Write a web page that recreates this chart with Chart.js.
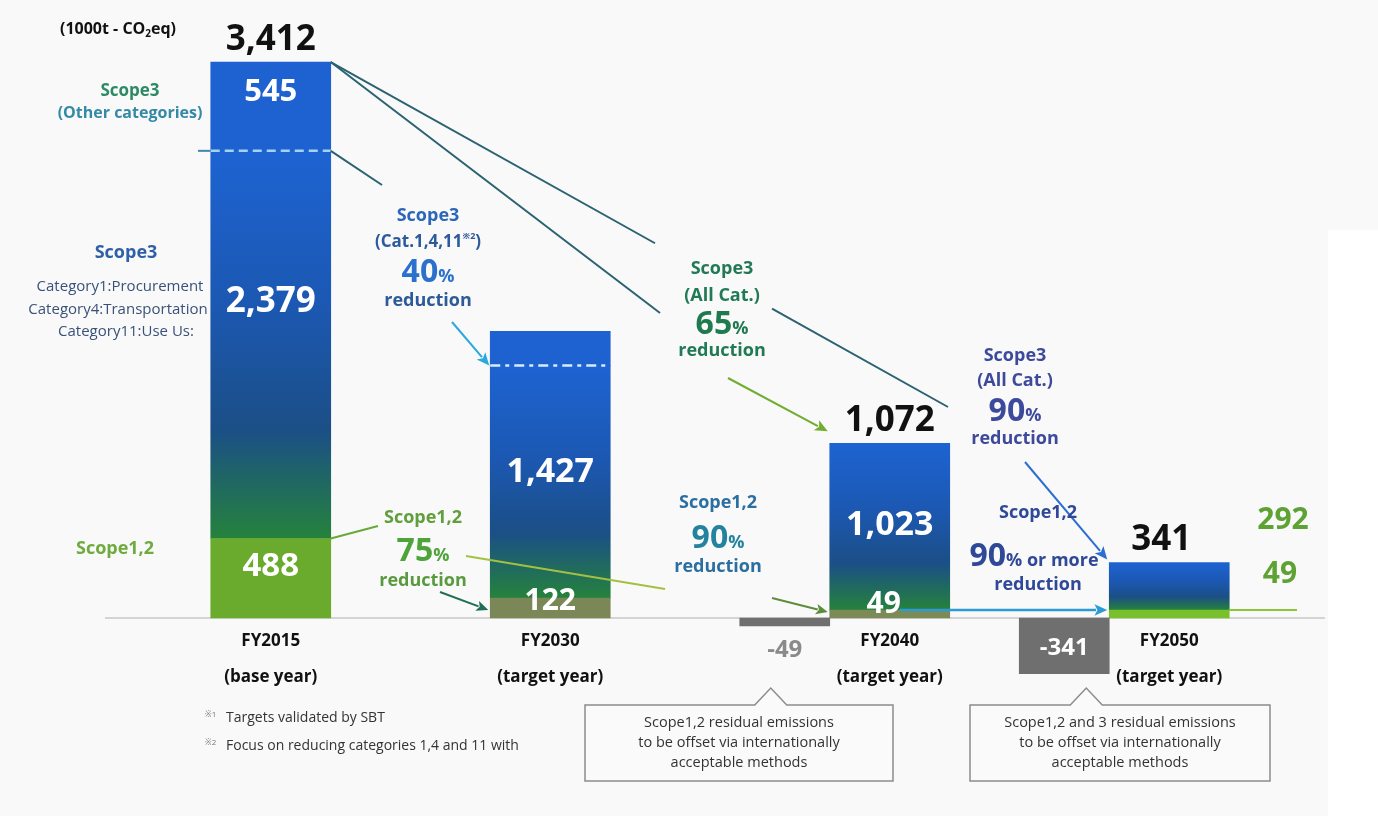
<!DOCTYPE html>
<html>
<head>
<meta charset="utf-8">
<title>CO2 reduction targets</title>
<script src="https://cdn.jsdelivr.net/npm/chart.js@4.4.1/dist/chart.umd.min.js"></script>
<style>
  html, body { margin: 0; padding: 0; background: #f9f9f9; }
  canvas { display: block; }
</style>
</head>
<body>
<canvas id="targetChart" width="1378" height="816"></canvas>
<script>
// values in 1000t - CO2eq
const years = ["FY2015", "FY2030", "FY2040", "FY2050"];
const yearNotes = ["(base year)", "(target year)", "(target year)", "(target year)"];
const scope12 = [488, 122, 49, 49];
const scope3Focus = [2379, 1427, 1023, 292];   // Cat.1,4,11 (all categories from FY2040 on)
const scope3Other = [545, 210, null, null];    // FY2030 part has no label
const offsets = [null, null, -49, -341];
const showTotal = [true, false, true, true];

const scope12Colors = ["#6aaa2d", "#7b8756", "#7b8a56", "#78c02c"];
const FONT = '"Open Sans", "Noto Sans", sans-serif';

// blue -> green fade used on the Scope3 part of each bar
function focusGradient(context) {
    const chart = context.chart;
    const i = context.dataIndex;
    const yScale = chart.scales.y;
    if (!chart.chartArea || !yScale || i === undefined) return "#1c56ac";
    const bottom = yScale.getPixelForValue(scope12[i]);
    const top = yScale.getPixelForValue(scope12[i] + scope3Focus[i]);
    const g = chart.ctx.createLinearGradient(0, top, 0, bottom);
    g.addColorStop(0, "#1d63d2");
    g.addColorStop(0.4, "#1c58b2");
    g.addColorStop(0.72, "#1b4f86");
    g.addColorStop(1, "#25823c");
    return g;
}

function barRect(chart, ds, i) {
    const el = chart.getDatasetMeta(ds).data[i];
    const p = el.getProps(["x", "y", "base", "width"], true);
    return {
        left: p.x - p.width / 2, right: p.x + p.width / 2,
        top: Math.min(p.y, p.base), bottom: Math.max(p.y, p.base), cx: p.x
    };
}

// whole main bar of one year (scope1,2 + scope3 parts)
function mainRect(chart, i) {
    const low = barRect(chart, 1, i);
    const high = scope3Other[i] !== null ? barRect(chart, 3, i) : barRect(chart, 2, i);
    return { left: low.left, right: low.right, top: high.top, bottom: low.bottom, cx: low.cx };
}

function text(ctx, str, x, y, size, color, weight, align) {
    ctx.font = (weight || 700) + " " + size + "px " + FONT;
    ctx.fillStyle = color;
    ctx.textAlign = align || "center";
    ctx.textBaseline = "alphabetic";
    ctx.fillText(str, x, y);
}

// several pieces of text of different size on one baseline, centred on cx
function parts(ctx, list, cx, y, color) {
    let w = 0;
    list.forEach(p => {
        ctx.font = "700 " + p[1] + "px " + FONT;
        w += ctx.measureText(p[0]).width;
    });
    let x = cx - w / 2;
    list.forEach(p => {
        ctx.font = "700 " + p[1] + "px " + FONT;
        ctx.fillStyle = p[2] || color;
        ctx.textAlign = "left";
        ctx.textBaseline = "alphabetic";
        ctx.fillText(p[0], x, y + (p[3] || 0));
        x += ctx.measureText(p[0]).width;
    });
}

function line(ctx, x1, y1, x2, y2, color, width) {
    ctx.beginPath();
    ctx.moveTo(x1, y1);
    ctx.lineTo(x2, y2);
    ctx.strokeStyle = color;
    ctx.lineWidth = width || 2;
    ctx.stroke();
}

function arrow(ctx, x1, y1, x2, y2, color, width, head) {
    const a = Math.atan2(y2 - y1, x2 - x1);
    const h = head || 12;
    line(ctx, x1, y1, x2 - Math.cos(a) * h * 0.8, y2 - Math.sin(a) * h * 0.8, color, width);
    ctx.beginPath();
    ctx.moveTo(x2, y2);
    ctx.lineTo(x2 - h * Math.cos(a - 0.42), y2 - h * Math.sin(a - 0.42));
    ctx.lineTo(x2 - h * 0.7 * Math.cos(a), y2 - h * 0.7 * Math.sin(a));
    ctx.lineTo(x2 - h * Math.cos(a + 0.42), y2 - h * Math.sin(a + 0.42));
    ctx.closePath();
    ctx.fillStyle = color;
    ctx.fill();
}

function callout(ctx, left, top, right, bottom, tipX, tipY, lines) {
    ctx.beginPath();
    ctx.moveTo(left, top);
    ctx.lineTo(tipX - 16, top);
    ctx.lineTo(tipX, tipY);
    ctx.lineTo(tipX + 16, top);
    ctx.lineTo(right, top);
    ctx.lineTo(right, bottom);
    ctx.lineTo(left, bottom);
    ctx.closePath();
    ctx.fillStyle = "#fafafa";
    ctx.fill();
    ctx.strokeStyle = "#8c8c8c";
    ctx.lineWidth = 1.5;
    ctx.stroke();
    const cx = (left + right) / 2;
    lines.forEach((s, k) => text(ctx, s, cx, top + 22 + k * 20, 14.5, "#333333", 400));
}

const decor = {
    id: "decor",
    beforeDraw(chart) {
        const ctx = chart.ctx;
        ctx.save();
        ctx.fillStyle = "#f9f9f9";
        ctx.fillRect(0, 0, chart.width, chart.height);
        ctx.fillStyle = "#ffffff";
        ctx.fillRect(1328, 230, 50, 586);
        ctx.restore();
    },
    beforeDatasetsDraw(chart) {
        const ctx = chart.ctx;
        const y0 = chart.scales.y.getPixelForValue(0);
        ctx.save();
        line(ctx, 105, y0, 1325, y0, "#d4d4d4", 2);
        ctx.restore();
    },
    afterDatasetsDraw(chart) {
        const ctx = chart.ctx;
        const y = chart.scales.y;
        const b = years.map((_, i) => mainRect(chart, i));
        const off2 = barRect(chart, 0, 2);
        const off3 = barRect(chart, 0, 3);
        ctx.save();

        // dashed split between Scope3 parts
        const split0 = y.getPixelForValue(scope12[0] + scope3Focus[0]);
        line(ctx, 198, split0, b[0].left, split0, "#3a8aa8", 2);
        ctx.setLineDash([9, 5]);
        line(ctx, b[0].left, split0, b[0].right, split0, "#a6d2f2", 2.5);
        const split1 = y.getPixelForValue(scope12[1] + scope3Focus[1]);
        ctx.setLineDash([10, 5, 4, 5]);
        line(ctx, b[1].left, split1, b[1].right, split1, "#d6ebfa", 2.5);
        ctx.setLineDash([]);

        // connector lines from the base year
        const ex = 948, ey = 407;
        const yAt = x => b[0].top + (x - b[0].right) * (ey - b[0].top) / (ex - b[0].right);
        line(ctx, b[0].right, b[0].top, 655, yAt(655), "#2a6272", 2);
        line(ctx, 772, yAt(772), ex, ey, "#2a6272", 2);
        line(ctx, b[0].right, b[0].top, 660, 313, "#2a6272", 2);
        line(ctx, b[0].right, split0, 382, 185, "#2a6272", 2);
        const s12top0 = y.getPixelForValue(scope12[0]);
        line(ctx, b[0].right, s12top0, 378, 526, "#6aa83a", 2);
        line(ctx, 466, 556, 665, 589, "#a4c040", 1.8);

        arrow(ctx, 452, 322, b[1].left - 1, split1, "#29a9dc", 2, 14);
        arrow(ctx, 728, 378, b[2].left - 2, b[2].top - 12, "#6fae30", 2, 14);
        arrow(ctx, 1025, 462, b[3].left - 2, b[3].top - 3, "#2b6fd2", 2, 14);
        arrow(ctx, 440, 592, b[1].left - 2, b[1].bottom - 8, "#1f6e55", 2, 13);
        arrow(ctx, 772, 598, b[2].left - 2, b[2].bottom - 6, "#5f8c3c", 2, 13);
        const yA = y.getPixelForValue(scope12[3]);
        arrow(ctx, 900, yA, b[3].left - 2, yA, "#2b9bd6", 2.5, 14);
        line(ctx, b[3].right, yA, 1297, yA, "#8cc43a", 2);

        // unit
        parts(ctx, [["(1000t - CO", 16], ["2", 10, null, 3], ["eq)", 16]], 118, 34, "#111111");

        // totals above the bars
        years.forEach((_, i) => {
            if (!showTotal[i]) return;
            const t = scope12[i] + scope3Focus[i] + (scope3Other[i] || 0);
            const dx = i === 3 ? -8 : 0;
            text(ctx, t.toLocaleString("en-US"), b[i].cx + dx, b[i].top - 12, 35, "#111111");
        });

        // values inside the bars
        text(ctx, scope3Other[0].toLocaleString("en-US"), b[0].cx, 101, 31, "#ffffff");
        text(ctx, scope3Focus[0].toLocaleString("en-US"), b[0].cx, 312, 35, "#ffffff");
        text(ctx, scope12[0].toLocaleString("en-US"), b[0].cx, 576, 33, "#ffffff");
        text(ctx, scope3Focus[1].toLocaleString("en-US"), b[1].cx, 482, 34, "#ffffff");
        text(ctx, scope12[1].toLocaleString("en-US"), b[1].cx, 610, 30, "#ffffff");
        text(ctx, scope3Focus[2].toLocaleString("en-US"), b[2].cx, 535, 34, "#ffffff");
        text(ctx, scope12[2].toLocaleString("en-US"), b[2].cx - 6, 613, 30, "#ffffff");
        text(ctx, scope3Focus[3].toLocaleString("en-US"), 1283, 529, 30, "#5ea233");
        text(ctx, scope12[3].toLocaleString("en-US"), 1280, 583, 30, "#5ea233");

        // offsets
        text(ctx, offsets[2].toString(), off2.cx, 657, 24, "#8a8a8a");
        text(ctx, offsets[3].toString(), off3.cx, (off3.top + off3.bottom) / 2 + 9, 24, "#ffffff");

        // x labels under the main bars
        years.forEach((yr, i) => {
            text(ctx, yr, b[i].cx, 646, 17, "#111111");
            text(ctx, yearNotes[i], b[i].cx, 682, 17, "#111111");
        });

        // left side labels
        text(ctx, "Scope3", 130, 96, 17, "#2e8a66");
        text(ctx, "(Other categories)", 130, 118, 16, "#3489a6");
        text(ctx, "Scope3", 126, 258, 18, "#2f5fa6");
        text(ctx, "Category1:Procurement", 120, 291, 15, "#3a5279", 400);
        text(ctx, "Category4:Transportation", 118, 314, 15, "#3a5279", 400);
        text(ctx, "Category11:Use Us:", 126, 336, 15, "#3a5279", 400);
        text(ctx, "Scope1,2", 115, 554, 18, "#6fab3f");

        // reduction notes
        text(ctx, "Scope3", 428, 221, 18, "#2b66b8");
        parts(ctx, [["(Cat.1,4,11", 17], ["※2", 9, null, -8], [")", 17]], 428, 247, "#2d5a9c");
        parts(ctx, [["40", 32, "#2a70cc"], ["%", 18, "#2a70cc"]], 428, 282);
        text(ctx, "reduction", 428, 306, 18, "#2d5a99");

        text(ctx, "Scope3", 722, 274, 18, "#217a55");
        text(ctx, "(All Cat.)", 722, 301, 18, "#217a55");
        parts(ctx, [["65", 32], ["%", 18]], 722, 334, "#1f7a4f");
        text(ctx, "reduction", 722, 356, 18, "#217a55");

        text(ctx, "Scope3", 1015, 361, 18, "#3d4a9c");
        text(ctx, "(All Cat.)", 1015, 386, 18, "#3d4a9c");
        parts(ctx, [["90", 32], ["%", 18]], 1015, 421, "#3d4a9c");
        text(ctx, "reduction", 1015, 444, 18, "#3d4a9c");

        text(ctx, "Scope1,2", 423, 523, 18, "#5f9f3c");
        parts(ctx, [["75", 32], ["%", 18]], 423, 561, "#4ea33a");
        text(ctx, "reduction", 423, 586, 18, "#5a9a3e");

        text(ctx, "Scope1,2", 718, 508, 18, "#2b6fa0");
        parts(ctx, [["90", 32], ["%", 18]], 718, 548, "#23839e");
        text(ctx, "reduction", 718, 572, 18, "#2b6fa0");

        text(ctx, "Scope1,2", 1038, 518, 18, "#2f4898");
        parts(ctx, [["90", 32], ["% or more", 18]], 1034, 566, "#2f4898");
        text(ctx, "reduction", 1038, 590, 18, "#2f4898");

        // footnotes
        text(ctx, "※1", 205, 717, 8, "#777777", 400, "left");
        text(ctx, "Targets validated by SBT", 226, 722, 14, "#333333", 400, "left");
        text(ctx, "※2", 205, 745, 8, "#777777", 400, "left");
        text(ctx, "Focus on reducing categories 1,4 and 11 with", 226, 750, 14, "#333333", 400, "left");

        callout(ctx, 585, 705, 893, 781, off2.cx - 14, 688,
            ["Scope1,2 residual emissions", "to be offset via internationally", "acceptable methods"]);
        callout(ctx, 970, 705, 1270, 781, off3.cx + 22, 688,
            ["Scope1,2 and 3 residual emissions", "to be offset via internationally", "acceptable methods"]);

        ctx.restore();
    }
};

const ctx = document.getElementById("targetChart").getContext("2d");
new Chart(ctx, {
    type: "bar",
    data: {
        labels: years,
        datasets: [
            { label: "Offset", data: offsets, stack: "offset", backgroundColor: "#6f6f6f", barThickness: 90 },
            { label: "Scope1,2", data: scope12, stack: "main", backgroundColor: scope12Colors, barThickness: 120 },
            { label: "Scope3 (Cat.1,4,11)", data: scope3Focus, stack: "main", backgroundColor: focusGradient, barThickness: 120 },
            { label: "Scope3 (Other categories)", data: scope3Other, stack: "main", backgroundColor: "#1d62d0", barThickness: 120 }
        ]
    },
    options: {
        responsive: false,
        animation: false,
        skipNull: true,
        datasets: { bar: { skipNull: true } },
        layout: { padding: { left: 131, right: 129, top: 31.4, bottom: 100.2 } },
        scales: {
            x: { stacked: true, display: false },
            y: { stacked: true, display: false, min: -600, max: 3600 }
        },
        plugins: {
            legend: { display: false },
            tooltip: { enabled: false }
        }
    },
    plugins: [decor]
});
</script>
</body>
</html>
